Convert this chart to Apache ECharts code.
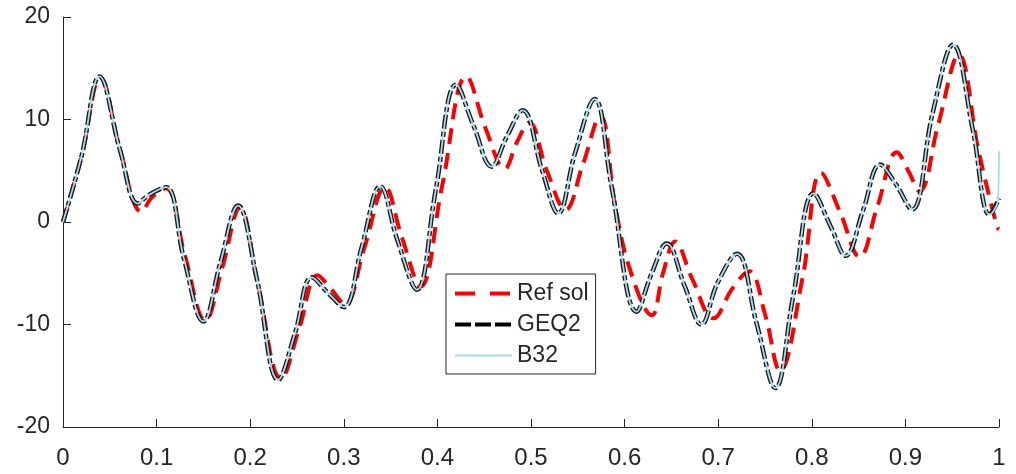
<!DOCTYPE html>
<html>
<head>
<meta charset="utf-8">
<script src="https://cdn.jsdelivr.net/npm/echarts@6/dist/echarts.min.js"></script>
<style>
  html, body { margin: 0; padding: 0; background: #fff; }
  #chart { width: 1016px; height: 474px; }
</style>
</head>
<body>
<div id="chart"></div>
<script>
'use strict';

// values
var xTicks = [0, 0.1, 0.2, 0.3, 0.4, 0.5, 0.6, 0.7, 0.8, 0.9, 1];
var yTicks = [-20, -10, 0, 10, 20];
var seriesNames = ['Ref sol', 'GEQ2', 'B32'];

var refX = [0, 0.02, 0.040, 0.061, 0.084, 0.095, 0.110, 0.13, 0.152, 0.17,
  0.189, 0.208, 0.233, 0.252, 0.272, 0.286, 0.301, 0.322, 0.344, 0.362,
  0.382, 0.405, 0.431, 0.452, 0.472, 0.485, 0.498, 0.517, 0.537, 0.555,
  0.574, 0.59, 0.607, 0.629, 0.641, 0.654, 0.672, 0.695, 0.715, 0.733,
  0.75, 0.766, 0.79, 0.810, 0.83, 0.851, 0.87, 0.891, 0.903, 0.915,
  0.935, 0.957, 0.978, 0.998, 1.0];
var refY = [0, 6.5, 14.1, 7.0, 1.0, 2.4, 3.3, -3.2, -9.6, -4.5,
  1.4, -6, -15.3, -10.5, -5.2, -6.5, -8.0, -2.5, 3.4, -1.5,
  -6.3, 3.5, 14.2, 9.0, 5.2, 7.8, 9.7, 5, 1.2, 5.5,
  10.4, 1.5, -5, -9.1, -5, -1.9, -5.5, -9.4, -6.5, -4.8,
  -9, -14.5, -5.5, 4.8, 1, -3.4, 1.5, 6.8, 5, 3.0,
  9.5, 16.3, 7, -0.5, -0.7];

var geqX = [0, 0.02, 0.039, 0.061, 0.08, 0.091, 0.110, 0.129, 0.150, 0.168,
  0.187, 0.207, 0.230, 0.248, 0.266, 0.283, 0.300, 0.319, 0.339, 0.357,
  0.378, 0.398, 0.420, 0.439, 0.458, 0.474, 0.491, 0.512, 0.529, 0.547,
  0.568, 0.586, 0.613, 0.629, 0.645, 0.664, 0.682, 0.699, 0.720, 0.741,
  0.761, 0.780, 0.802, 0.821, 0.836, 0.855, 0.873, 0.889, 0.907, 0.929,
  0.951, 0.972, 0.990, 1.0];
var geqY = [0, 6.5, 14.2, 7.0, 1.8, 2.6, 3.4, -3.5, -9.7, -4,
  1.6, -5.5, -15.4, -10.8, -5.4, -6.9, -8.3, -2.5, 3.5, -1.7,
  -6.6, 3.0, 13.4, 9.3, 5.4, 8.3, 10.9, 5.0, 0.85, 6.7,
  12.0, 3.5, -8.75, -5.0, -2.1, -6.2, -10.0, -6.0, -3.1, -9.9,
  -16.2, -7.3, 2.8, -0.6, -3.3, 1.2, 5.6, 3.8, 1.2, 10.6,
  17.3, 9.0, 0.7, 2.3];

var b32X = [0, 0.02, 0.039, 0.061, 0.08, 0.091, 0.110, 0.129, 0.150, 0.168,
  0.187, 0.207, 0.230, 0.248, 0.266, 0.283, 0.300, 0.319, 0.339, 0.357,
  0.378, 0.398, 0.420, 0.439, 0.458, 0.474, 0.491, 0.512, 0.529, 0.547,
  0.568, 0.586, 0.613, 0.629, 0.645, 0.664, 0.682, 0.699, 0.720, 0.741,
  0.761, 0.780, 0.802, 0.821, 0.836, 0.855, 0.873, 0.889, 0.907, 0.929,
  0.951, 0.972, 0.990, 0.999, 1.0];
var b32Y = [0, 6.5, 14.2, 7.0, 1.8, 2.6, 3.4, -3.5, -9.7, -4,
  1.6, -5.5, -15.4, -10.8, -5.4, -6.9, -8.3, -2.5, 3.5, -1.7,
  -6.6, 3.0, 13.4, 9.3, 5.4, 8.3, 10.9, 5.0, 0.85, 6.7,
  12.0, 3.5, -8.75, -5.0, -2.1, -6.2, -10.0, -6.0, -3.1, -9.9,
  -16.2, -7.3, 2.8, -0.6, -3.3, 1.2, 5.6, 3.8, 1.2, 10.6,
  17.3, 9.0, 0.7, 2.2, 6.9];

var refColor = '#ff0000';
var geqColor = '#1a1a1a';
var b32Color = '#a6dcee';

function zip(xs, ys) {
  var out = [];
  for (var i = 0; i < xs.length; i++) out.push([xs[i], ys[i]]);
  return out;
}

var axisColor = '#262626';
var font = 'Liberation Sans, Arial, Helvetica, sans-serif';
var noSymbol = { opacity: 0, borderWidth: 0 };

var chart = echarts.init(document.getElementById('chart'));
chart.setOption({
  animation: false,
  backgroundColor: '#fff',
  grid: { left: 63, right: 17, top: 17, bottom: 47 },
  legend: {
    left: 446,
    top: 274,
    orient: 'vertical',
    backgroundColor: '#fff',
    borderColor: axisColor,
    borderWidth: 1,
    borderRadius: 0,
    padding: [8, 7, 7, 7],
    itemGap: 8,
    itemWidth: 57,
    itemHeight: 14,
    textStyle: { fontFamily: font, fontSize: 23, color: axisColor },
    data: [
      { name: seriesNames[0], itemStyle: noSymbol,
        lineStyle: { color: refColor, width: 4, type: [20, 15] } },
      { name: seriesNames[1], itemStyle: noSymbol,
        lineStyle: { color: '#000', width: 4, type: [16, 4] } },
      { name: seriesNames[2], itemStyle: noSymbol,
        lineStyle: { color: b32Color, width: 2, type: 'solid' } }
    ]
  },
  xAxis: {
    type: 'value',
    min: 0, max: 1, interval: 0.1,
    splitLine: { show: false },
    axisLine: { onZero: false, lineStyle: { color: axisColor, width: 1 } },
    axisTick: { inside: true, length: 8, lineStyle: { color: axisColor } },
    axisLabel: {
      margin: 19, color: axisColor, fontFamily: font, fontSize: 24,
      formatter: function (v) {
        for (var i = 0; i < xTicks.length; i++) {
          if (Math.abs(xTicks[i] - v) < 1e-9) return String(xTicks[i]);
        }
        return '';
      }
    }
  },
  yAxis: {
    type: 'value',
    min: yTicks[0], max: yTicks[yTicks.length - 1], interval: 10,
    splitLine: { show: false },
    axisLine: { show: true, onZero: false, lineStyle: { color: axisColor, width: 1 } },
    axisTick: { show: true, inside: true, length: 8, lineStyle: { color: axisColor } },
    axisLabel: { margin: 13, color: axisColor, fontFamily: font, fontSize: 23 }
  },
  series: [
    {
      name: seriesNames[0], type: 'line', data: zip(refX, refY),
      smooth: 0.4, symbol: 'none', z: 2,
      itemStyle: { color: refColor },
      lineStyle: { color: refColor, width: 4, type: [16, 9] }
    },
    {
      name: seriesNames[1], type: 'line', data: zip(geqX, geqY),
      smooth: 0.4, symbol: 'none', z: 3,
      itemStyle: { color: geqColor },
      lineStyle: { color: geqColor, width: 4.5, type: [14, 3, 5, 3] }
    },
    {
      name: seriesNames[2], type: 'line', data: zip(b32X, b32Y),
      smooth: 0.4, symbol: 'none', z: 4,
      itemStyle: { color: b32Color },
      lineStyle: { color: b32Color, width: 1.8 }
    }
  ]
});
</script>
</body>
</html>
